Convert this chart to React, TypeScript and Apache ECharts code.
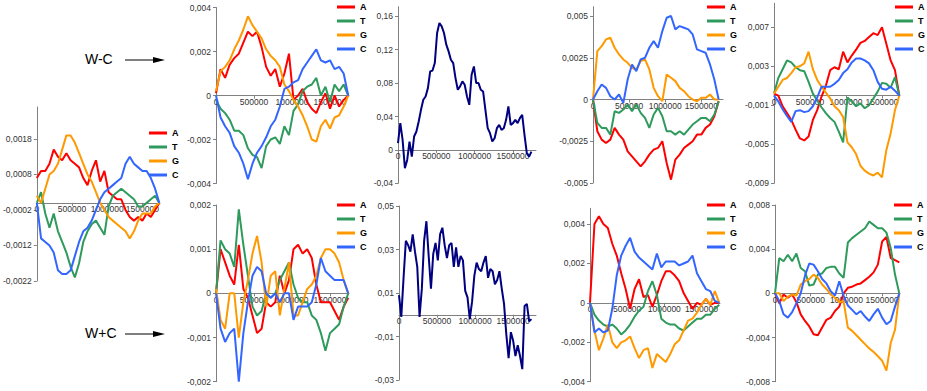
import React, { useEffect, useRef } from 'react';
import * as echarts from 'echarts';

// x positions (bp) for the nucleotide skew curves
const X = [0, 60000, 120000, 180000, 240000, 300000, 360000, 420000, 480000, 540000, 600000, 660000, 720000, 780000, 840000, 900000, 960000, 1020000, 1080000, 1140000, 1200000, 1260000, 1320000, 1380000, 1440000, 1500000, 1560000, 1620000, 1680000, 1740000];
// x positions (bp) for the total skew curves
const X2 = [0, 30000, 60000, 90000, 120000, 150000, 180000, 210000, 240000, 270000, 300000, 330000, 360000, 390000, 420000, 450000, 480000, 510000, 540000, 570000, 600000, 630000, 660000, 690000, 720000, 750000, 780000, 810000, 840000, 870000, 900000, 930000, 960000, 990000, 1020000, 1050000, 1080000, 1110000, 1140000, 1170000, 1200000, 1230000, 1260000, 1290000, 1320000, 1350000, 1380000, 1410000, 1440000, 1470000, 1500000, 1530000, 1560000, 1590000, 1620000, 1650000, 1680000, 1710000, 1740000];

const X_TICKS = [0, 500000, 1000000, 1500000];
const LEGEND_NAMES = ['A', 'T', 'G', 'C'];

// Left panel
const L_A = [0.0007, 0.0009, 0.0009, 0.0011, 0.0015, 0.0013, 0.0012, 0.0014, 0.0012, 0.0011, 0.001, 0.0007, 0.0005, 0.0009, 0.0012, 0.0006, 0.0009, 0.0003, 0.0002, 0.0001, 0.0001, -0.0002, -0.0004, -0.0005, -0.0004, -0.0005, -0.0003, -0.0004, -0.0002, 0.0];
const L_T = [0.0, 0.0003, -0.0003, -0.0007, -0.0003, -0.0008, -0.0011, -0.0014, -0.0018, -0.0021, -0.0017, -0.0011, -0.0008, -0.0006, -0.0005, -0.0007, -0.0009, -0.0001, 0.0002, 0.0003, 0.0004, 0.0003, 0.0002, 0.0001, -0.0001, -0.0001, 0.0, 0.0001, 0.0002, 0.0];
const L_G = [0.0002, 0.0, 0.0004, 0.0008, 0.0009, 0.0011, 0.0015, 0.0019, 0.0019, 0.0017, 0.0014, 0.0011, 0.0008, 0.0006, 0.0003, 0.0, -0.0002, -0.0004, -0.0005, -0.0006, -0.0007, -0.0008, -0.001, -0.0008, -0.0005, -0.0003, -0.0003, -0.0003, -0.0001, 0.0];
const L_C = [0.0, -0.001, -0.0011, -0.0012, -0.0014, -0.0019, -0.002, -0.002, -0.0019, -0.0015, -0.0011, -0.0008, -0.0007, -0.0005, -0.0002, 0.0001, 0.0003, 0.0004, 0.0005, 0.0006, 0.0007, 0.0011, 0.0013, 0.0011, 0.001, 0.0009, 0.0009, 0.0007, 0.0004, 0.0];
const L_TICKS = [-0.0022, -0.0012, -0.0002, 0.0008, 0.0018];

// Top row, panel 1 (W-C)
const TR1_A = [0.0001, 0.0012, 0.0008, 0.0014, 0.0017, 0.0019, 0.0024, 0.0029, 0.0027, 0.0029, 0.0022, 0.0013, 0.0009, 0.0012, 0.0004, 0.001, 0.0019, -0.0002, 0.0, 0.0003, -0.0003, -0.0006, -0.0008, -0.0003, 0.0001, -0.0006, 0.0, -0.0005, -0.0002, 0.0];
const TR1_T = [-0.0002, -0.0006, -0.0008, -0.0011, -0.0016, -0.0016, -0.0018, -0.0024, -0.0027, -0.0028, -0.0033, -0.0023, -0.002, -0.0019, -0.0022, -0.0014, -0.0018, -0.0007, -0.0004, 0.0002, 0.0004, 0.0005, 0.0008, 0.0, 0.0004, -0.0003, 0.0005, 0.0002, 0.0005, 0.0];
const TR1_G = [0.0002, 0.0011, 0.0013, 0.0016, 0.0021, 0.0025, 0.003, 0.0036, 0.0032, 0.0029, 0.0026, 0.0021, 0.0018, 0.0016, 0.0013, 0.0005, 0.0002, -0.0002, -0.0005, -0.0009, -0.0014, -0.002, -0.0021, -0.0014, -0.0011, -0.0015, -0.001, -0.0009, -0.0005, 0.0];
const TR1_C = [0.0, -0.001, -0.0014, -0.0017, -0.0023, -0.0026, -0.0031, -0.0038, -0.0031, -0.0026, -0.0023, -0.0019, -0.0014, -0.0011, -0.0005, 0.0003, 0.0004, 0.0006, 0.0007, 0.0012, 0.0015, 0.0018, 0.0021, 0.0016, 0.0015, 0.0016, 0.0012, 0.0013, 0.001, 0.0];
const TR1_TICKS = [-0.004, -0.002, 0, 0.002, 0.004];

// Top row, panel 2 (total W-C skew)
const TR2_S = [0.008, 0.032, 0.012, -0.022, -0.012, 0.01, -0.008, 0.016, 0.022, 0.034, 0.048, 0.06, 0.064, 0.074, 0.094, 0.095, 0.104, 0.14, 0.152, 0.148, 0.14, 0.126, 0.118, 0.108, 0.104, 0.086, 0.072, 0.076, 0.082, 0.078, 0.064, 0.054, 0.09, 0.1, 0.08, 0.08, 0.072, 0.07, 0.048, 0.026, 0.02, 0.01, 0.014, 0.026, 0.03, 0.024, 0.026, 0.036, 0.052, 0.03, 0.032, 0.036, 0.032, 0.038, 0.042, 0.018, -0.004, -0.008, -0.002];
const TR2_TICKS = [-0.04, 0, 0.04, 0.08, 0.12, 0.16];

// Top row, panel 3
const TR3_A = [0.0, -0.0019, -0.0024, -0.0026, -0.0024, -0.0017, -0.0021, -0.0024, -0.0031, -0.0034, -0.0037, -0.004, -0.0037, -0.0033, -0.003, -0.0029, -0.0025, -0.0038, -0.0048, -0.0036, -0.0033, -0.0029, -0.0027, -0.0025, -0.0021, -0.0021, -0.0017, -0.0015, -0.001, -0.0001];
const TR3_T = [0.0, -0.0014, -0.0017, -0.0017, -0.0021, -0.0007, -0.0008, -0.0006, -0.0003, -0.0007, -0.0003, -0.0008, -0.0011, -0.0017, -0.0009, -0.0005, -0.001, -0.0019, -0.0019, -0.0021, -0.0019, -0.0021, -0.0018, -0.0015, -0.0013, -0.0011, -0.0011, -0.0013, -0.0009, -0.0001];
const TR3_G = [0.0, 0.0029, 0.0032, 0.0036, 0.0037, 0.0031, 0.0027, 0.0024, 0.0022, 0.0019, 0.0018, 0.0023, 0.0024, 0.0018, 0.0007, 0.0002, -0.0001, 0.0015, 0.0013, 0.0011, 0.0007, 0.0005, 0.0002, 0.0, -0.0001, 0.0001, 0.0001, 0.0003, 0.0, 0.0];
const TR3_C = [0.0, 0.0005, 0.0009, 0.0007, 0.0002, 0.0, 0.0003, -0.0002, 0.0012, 0.0021, 0.0017, 0.0024, 0.0025, 0.0031, 0.0035, 0.0031, 0.0041, 0.0049, 0.005, 0.0042, 0.0044, 0.0043, 0.0042, 0.0039, 0.003, 0.0029, 0.0028, 0.0021, 0.0012, 0.0];
const TR3_TICKS = [-0.005, -0.0025, 0, 0.0025, 0.005];

// Top row, panel 4
const TR4_A = [0.0002, 0.0, -0.0011, -0.0018, -0.0025, -0.0035, -0.0044, -0.0046, -0.0042, -0.0025, -0.0015, -0.0001, 0.001, 0.0026, 0.0029, 0.0027, 0.0045, 0.0034, 0.0041, 0.0047, 0.0054, 0.0056, 0.006, 0.0064, 0.0062, 0.007, 0.0053, 0.0036, 0.0026, 0.0];
const TR4_T = [0.0002, 0.0018, 0.0027, 0.0036, 0.0034, 0.0029, 0.0026, 0.0025, 0.0014, 0.0002, -0.0005, -0.0012, -0.0018, -0.0023, -0.0027, -0.0037, -0.0048, -0.0002, -0.0006, -0.0011, -0.0008, -0.0013, -0.001, -0.0003, 0.0004, 0.0013, 0.0012, 0.0008, 0.0019, 0.0];
const TR4_G = [0.0002, 0.0009, 0.0016, 0.0018, 0.0023, 0.0029, 0.003, 0.0033, 0.0045, 0.0027, 0.0016, 0.0009, 0.0003, -0.0003, -0.0011, -0.0015, -0.0022, -0.0048, -0.0053, -0.006, -0.0072, -0.0077, -0.008, -0.0082, -0.0079, -0.0084, -0.0056, -0.0039, -0.0015, 0.0];
const TR4_C = [0.0, -0.0006, -0.0014, -0.0021, -0.0027, -0.0016, -0.0015, -0.0017, -0.0016, -0.0011, -0.0002, 0.0009, 0.0009, 0.0009, 0.0012, 0.0016, 0.0023, 0.0027, 0.0034, 0.0038, 0.0038, 0.0036, 0.0033, 0.0026, 0.0014, 0.0007, 0.0006, 0.0009, 0.0005, 0.0];
const TR4_TICKS = [-0.009, -0.005, -0.001, 0.003, 0.007];

// Bottom row, panel 1 (W+C)
const BR1_A = [0.0, 0.001, 0.0007, 0.0004, 0.0002, 0.0011, 0.0001, -0.0001, -0.0005, -0.0009, -0.0008, -0.0002, -0.0003, -0.0002, 0.0004, 0.0, 0.0003, 0.001, 0.0011, 0.0009, 0.001, 0.0008, 0.0002, -0.0002, -0.0002, -0.0002, -0.0004, -0.0006, -0.0003, -0.0001];
const BR1_T = [0.0, 0.0012, 0.001, 0.0009, 0.0006, 0.0019, 0.0011, 0.0004, -0.0003, -0.0005, -0.0004, 0.0, -0.0001, 0.0, 0.0003, 0.0005, 0.0007, 0.0002, -0.0001, -0.0002, -0.0002, -0.0005, -0.0006, -0.0009, -0.0013, -0.0009, -0.0008, -0.0007, -0.0003, 0.0];
const BR1_G = [0.0001, -0.0006, -0.0008, 0.0, 0.0, -0.001, -0.0002, 0.0003, 0.0009, 0.0013, 0.0007, -0.0003, 0.0004, 0.0005, -0.0005, 0.0001, 0.0007, -0.0005, -0.0005, -0.0002, 0.0001, 0.0002, 0.0004, 0.0008, 0.001, 0.001, 0.0009, 0.0007, 0.0003, 0.0];
const BR1_C = [0.0, -0.0008, -0.0011, -0.0009, -0.0008, -0.002, -0.0009, -0.0002, 0.0004, 0.0006, 0.0005, 0.0, -0.0001, 0.0, -0.0002, 0.0, 0.0, -0.0006, -0.0003, -0.0003, -0.0003, -0.0002, 0.0002, 0.0008, 0.0005, 0.0004, 0.0003, 0.0003, 0.0003, 0.0];
const BR1_TICKS = [-0.002, -0.001, 0, 0.001, 0.002];

// Bottom row, panel 2 (total W+C skew)
const BR2_S = [0.009, -0.001, 0.017, 0.034, 0.032, 0.029, 0.037, 0.029, 0.022, -0.001, 0.012, 0.034, 0.043, 0.027, 0.012, 0.028, 0.033, 0.025, 0.037, 0.04, 0.032, 0.026, 0.032, 0.033, 0.022, 0.031, 0.022, 0.027, 0.025, 0.011, 0.008, -0.002, 0.006, 0.018, 0.024, 0.021, 0.02, 0.024, 0.027, 0.017, 0.021, 0.02, 0.014, 0.016, 0.02, 0.012, 0.005, -0.009, -0.02, -0.008, -0.012, -0.019, -0.014, -0.019, -0.025, 0.004, 0.005, -0.003, -0.002];
const BR2_TICKS = [-0.03, -0.01, 0.01, 0.03, 0.05];

// Bottom row, panel 3
const BR3_A = [0.0, 0.004, 0.0044, 0.004, 0.0038, 0.003, 0.0024, 0.0015, 0.0007, -0.0003, 0.0007, 0.0012, 0.0003, 0.0004, -0.0002, 0.0004, 0.0011, 0.0016, 0.0016, 0.0014, 0.0011, 0.0005, 0.0001, -0.0003, 0.0, -0.0001, 0.0002, -0.0001, 0.0, 0.0];
const BR3_T = [0.0, -0.0006, -0.0009, -0.0011, -0.0012, -0.0011, -0.0013, -0.0016, -0.0014, -0.0011, -0.0007, -0.0004, -0.0002, 0.0006, 0.0011, 0.0004, -0.0008, -0.001, -0.0011, -0.0011, -0.0013, -0.0014, -0.0012, -0.001, -0.0008, -0.0008, -0.0006, -0.0006, -0.0003, -0.0001];
const BR3_G = [0.0, -0.0014, -0.0024, -0.0018, -0.0011, -0.002, -0.0023, -0.002, -0.0019, -0.0017, -0.0023, -0.0028, -0.0024, -0.0023, -0.0033, -0.0026, -0.0028, -0.003, -0.0026, -0.0021, -0.0019, -0.0014, -0.0009, -0.0008, -0.0005, -0.0001, 0.0002, -0.0001, 0.0006, 0.0];
const BR3_C = [0.0, -0.0015, -0.0013, -0.0015, -0.0014, -0.0003, 0.0014, 0.0024, 0.0029, 0.0033, 0.0026, 0.0023, 0.0021, 0.0019, 0.0017, 0.0025, 0.0018, 0.0021, 0.0021, 0.0021, 0.0019, 0.002, 0.0021, 0.0024, 0.0015, 0.0011, 0.0007, 0.0006, 0.0001, 0.0];
const BR3_TICKS = [-0.004, -0.002, 0, 0.002, 0.004];

// Bottom row, panel 4
const BR4_A = [0.0, -0.0009, -0.0001, -0.0004, -0.0001, -0.0008, -0.0019, -0.0025, -0.003, -0.0037, -0.0038, -0.0031, -0.0024, -0.0022, -0.0016, -0.0012, 0.0, 0.0005, 0.0006, 0.0008, 0.0009, 0.0012, 0.0015, 0.0019, 0.0026, 0.0047, 0.0051, 0.0032, 0.003, 0.0028];
const BR4_T = [0.0, 0.0032, 0.0029, 0.0035, 0.0029, 0.0036, 0.0023, 0.002, 0.0007, 0.0008, 0.0017, 0.0018, 0.0023, 0.0024, 0.0024, 0.0018, 0.0014, 0.0046, 0.005, 0.0053, 0.0056, 0.0059, 0.0065, 0.0062, 0.0059, 0.0059, 0.0055, 0.0041, 0.0017, 0.0];
const BR4_G = [0.0, 0.0, -0.0007, -0.0003, -0.0001, -0.0002, 0.0008, 0.0011, 0.0013, 0.0017, 0.0014, 0.0008, 0.0004, -0.0001, -0.0004, -0.0008, -0.0007, -0.0031, -0.0034, -0.0038, -0.0042, -0.0046, -0.005, -0.0053, -0.0057, -0.0061, -0.007, -0.0045, -0.0033, 0.0];
const BR4_C = [0.0, -0.0007, -0.0019, -0.0022, -0.0017, -0.0009, 0.0, 0.0016, 0.0027, 0.0026, 0.002, 0.0013, 0.0009, 0.0002, -0.0002, 0.0011, -0.0002, -0.0011, -0.0015, -0.0019, -0.0016, -0.0021, -0.0025, -0.0019, -0.0014, -0.0022, -0.0028, -0.0025, -0.0012, 0.0];
const BR4_TICKS = [-0.008, -0.004, 0, 0.004, 0.008];

const COLORS: Record<string, string> = { A: '#ff0000', T: '#2e9a5c', G: '#ff9900', C: '#3366ff', S: '#000080' };
const FONT = '"Liberation Sans", Arial, sans-serif';

type Panel = {
  grid: { left: number; top: number; width: number; height: number };
  xMax: number;
  yMin: number;
  yMax: number;
  ticks: number[];
  series: [string, number[]][];
  xs: number[];
  legend?: { left: number; top: number };
};

const PANELS: Panel[] = [
  { grid: { left: 34, top: 107, width: 126, height: 174 }, xMax: 1750000, yMin: -0.0022, yMax: 0.0027, ticks: L_TICKS, xs: X,
    series: [['A', L_A], ['T', L_T], ['G', L_G], ['C', L_C]], legend: { left: 149, top: 126 } },
  { grid: { left: 216, top: 7.5, width: 133, height: 176 }, xMax: 1750000, yMin: -0.004, yMax: 0.004, ticks: TR1_TICKS, xs: X,
    series: [['A', TR1_A], ['T', TR1_T], ['G', TR1_G], ['C', TR1_C]], legend: { left: 337, top: 0 } },
  { grid: { left: 398, top: 6.7, width: 138, height: 176.6 }, xMax: 1800000, yMin: -0.04, yMax: 0.1715, ticks: TR2_TICKS, xs: X2,
    series: [['S', TR2_S]] },
  { grid: { left: 593, top: 6.7, width: 130, height: 176.3 }, xMax: 1800000, yMin: -0.005, yMax: 0.00556, ticks: TR3_TICKS, xs: X,
    series: [['A', TR3_A], ['T', TR3_T], ['G', TR3_G], ['C', TR3_C]], legend: { left: 707, top: 0 } },
  { grid: { left: 774, top: 3.3, width: 126, height: 180 }, xMax: 1750000, yMin: -0.009, yMax: 0.00946, ticks: TR4_TICKS, xs: X,
    series: [['A', TR4_A], ['T', TR4_T], ['G', TR4_G], ['C', TR4_C]], legend: { left: 895, top: 0 } },
  { grid: { left: 216, top: 205, width: 133, height: 176.7 }, xMax: 1750000, yMin: -0.002, yMax: 0.002, ticks: BR1_TICKS, xs: X,
    series: [['A', BR1_A], ['T', BR1_T], ['G', BR1_G], ['C', BR1_C]], legend: { left: 337, top: 198 } },
  { grid: { left: 399, top: 206, width: 137, height: 174 }, xMax: 1800000, yMin: -0.03, yMax: 0.05, ticks: BR2_TICKS, xs: X2,
    series: [['S', BR2_S]] },
  { grid: { left: 590, top: 208.3, width: 130, height: 173.4 }, xMax: 1750000, yMin: -0.004, yMax: 0.0048, ticks: BR3_TICKS, xs: X,
    series: [['A', BR3_A], ['T', BR3_T], ['G', BR3_G], ['C', BR3_C]], legend: { left: 707, top: 198 } },
  { grid: { left: 775, top: 205, width: 125, height: 176.7 }, xMax: 1750000, yMin: -0.008, yMax: 0.008, ticks: BR4_TICKS, xs: X,
    series: [['A', BR4_A], ['T', BR4_T], ['G', BR4_G], ['C', BR4_C]], legend: { left: 894, top: 198 } },
];

const fmtY = (v: number) => String(parseFloat(Number(v).toPrecision(6))).replace('.', ',');

function buildOption() {
  const axisColor = '#808080';
  const labelStyle = { fontSize: 8.5, color: '#333', fontFamily: FONT };
  const grid: any[] = [];
  const xAxis: any[] = [];
  const yAxis: any[] = [];
  const series: any[] = [];
  const legend: any[] = [];
  PANELS.forEach((p, i) => {
    grid.push({ ...p.grid, containLabel: false, show: false });
    // distance from the bottom of the plot up to the zero line
    const zeroUp = p.grid.height * (-p.yMin) / (p.yMax - p.yMin);
    xAxis.push({
      type: 'value', gridIndex: i, min: 0, max: p.xMax, position: 'bottom', offset: -zeroUp,
      axisLine: { onZero: false, lineStyle: { color: axisColor, width: 1 } },
      axisTick: { show: true, length: 3, inside: false, customValues: X_TICKS, lineStyle: { color: axisColor } },
      axisLabel: {
        ...labelStyle, margin: 2, customValues: X_TICKS, hideOverlap: false,
        showMinLabel: true, showMaxLabel: true, formatter: (v: number) => String(v),
      },
      splitLine: { show: false },
    });
    yAxis.push({
      type: 'value', gridIndex: i, min: p.yMin, max: p.yMax, position: 'left',
      axisLine: { show: true, onZero: false, lineStyle: { color: axisColor, width: 1 } },
      axisTick: { show: true, length: 3, customValues: p.ticks, lineStyle: { color: axisColor } },
      axisLabel: {
        ...labelStyle, margin: 5, customValues: p.ticks, hideOverlap: false,
        showMinLabel: true, showMaxLabel: true, formatter: fmtY,
      },
      splitLine: { show: false },
    });
    p.series.forEach(([name, vals]) => {
      series.push({
        type: 'line', name, xAxisIndex: i, yAxisIndex: i,
        data: p.xs.map((x, k) => [x, vals[k]]),
        showSymbol: false, symbol: 'none',
        color: COLORS[name],
        lineStyle: { color: COLORS[name], width: 2 },
        z: 3,
      });
    });
    if (p.legend) {
      legend.push({
        left: p.legend.left, top: p.legend.top, orient: 'vertical', padding: 0,
        itemGap: 0, itemWidth: 18, itemHeight: 3, icon: 'rect', selectedMode: false,
        data: LEGEND_NAMES,
        textStyle: { fontSize: 9, fontWeight: 'bold', color: '#000', fontFamily: FONT, lineHeight: 14 },
      });
    }
  });

  const arrow = (y: number) => [
    { type: 'line', shape: { x1: 125, y1: y, x2: 156, y2: y }, style: { stroke: '#000', lineWidth: 1 } },
    { type: 'polygon', shape: { points: [[153, y - 3], [165, y], [153, y + 3]] }, style: { fill: '#000' } },
  ];

  return {
    animation: false,
    backgroundColor: '#fff',
    grid, xAxis, yAxis, series, legend,
    graphic: [
      { type: 'text', left: 85, top: 52, style: { text: 'W-C', fontSize: 14, fontFamily: FONT, fill: '#000' } },
      { type: 'text', left: 85, top: 326, style: { text: 'W+C', fontSize: 14, fontFamily: FONT, fill: '#000' } },
      ...arrow(60),
      ...arrow(334),
    ],
  };
}

export default function App() {
  const ref = useRef<HTMLDivElement>(null);
  useEffect(() => {
    if (!ref.current) return;
    const chart = echarts.init(ref.current, undefined, { renderer: 'svg' });
    chart.setOption(buildOption());
    return () => chart.dispose();
  }, []);
  return <div ref={ref} style={{ position: 'fixed', left: 0, top: 0, width: 927, height: 391, background: '#fff' }} />;
}
